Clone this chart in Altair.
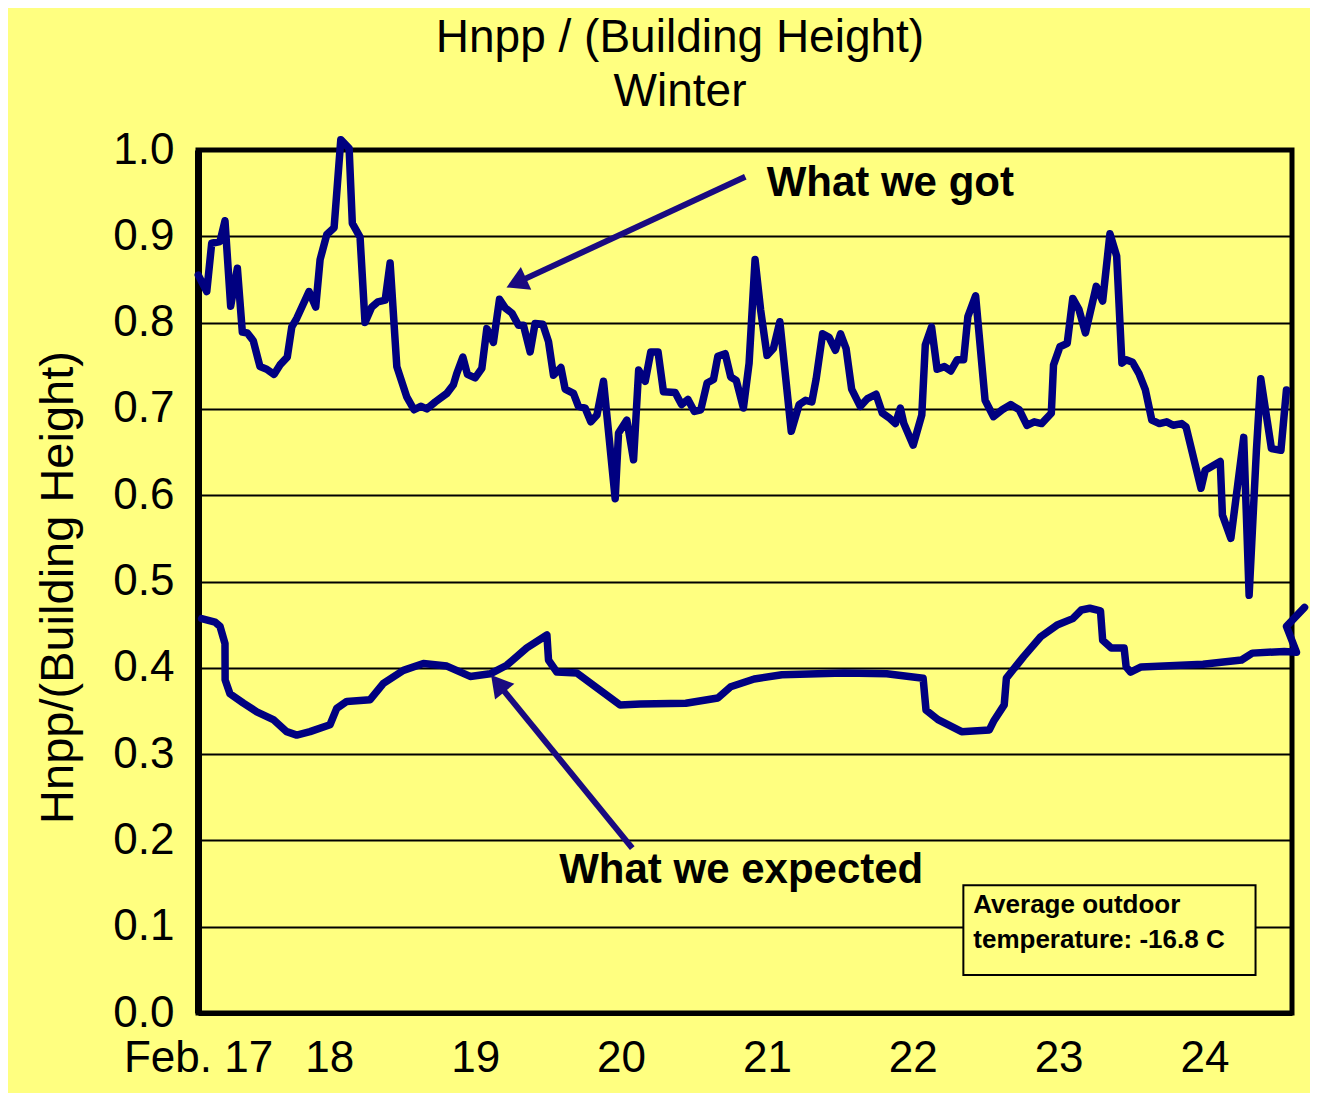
import altair as alt
import pandas as pd

# ---------------- data ----------------
got_day = [17.102, 17.160, 17.194, 17.251, 17.285, 17.324, 17.370, 17.404, 17.438, 17.479,
           17.525, 17.571, 17.621, 17.662, 17.712, 17.743, 17.777, 17.861, 17.907, 17.937,
           17.983, 18.033, 18.079, 18.136, 18.158, 18.211, 18.245, 18.291, 18.333, 18.383,
           18.417, 18.463, 18.531, 18.581, 18.627, 18.669, 18.726, 18.806, 18.851, 18.874,
           18.916, 18.947, 19.000, 19.046, 19.080, 19.125, 19.167, 19.206, 19.252, 19.297,
           19.331, 19.377, 19.411, 19.464, 19.503, 19.537, 19.588, 19.617, 19.674, 19.708,
           19.754, 19.793, 19.835, 19.880, 19.960, 19.983, 20.040, 20.086, 20.121, 20.166,
           20.204, 20.254, 20.291, 20.371, 20.415, 20.459, 20.503, 20.547, 20.590, 20.634,
           20.664, 20.714, 20.752, 20.790, 20.839, 20.878, 20.919, 20.957, 21.001, 21.045,
           21.089, 21.167, 21.221, 21.265, 21.308, 21.338, 21.382, 21.426, 21.470, 21.505,
           21.543, 21.581, 21.640, 21.690, 21.748, 21.792, 21.836, 21.881, 21.915, 21.939,
           22.003, 22.062, 22.086, 22.129, 22.167, 22.217, 22.261, 22.305, 22.349, 22.378,
           22.431, 22.496, 22.554, 22.613, 22.671, 22.730, 22.783, 22.833, 22.883, 22.950,
           22.965, 23.009, 23.059, 23.097, 23.140, 23.184, 23.258, 23.302, 23.352, 23.398,
           23.434, 23.463, 23.507, 23.551, 23.595, 23.639, 23.691, 23.741, 23.785, 23.844,
           23.874, 23.976, 24.005, 24.108, 24.123, 24.181, 24.269, 24.306, 24.356, 24.386,
           24.459, 24.524, 24.562]
got_val = [0.855, 0.836, 0.892, 0.894, 0.918, 0.819, 0.863, 0.789, 0.788, 0.779,
           0.749, 0.746, 0.740, 0.751, 0.760, 0.795, 0.805, 0.836, 0.818, 0.873,
           0.902, 0.910, 1.012, 1.002, 0.915, 0.899, 0.800, 0.818, 0.824, 0.826,
           0.869, 0.749, 0.714, 0.699, 0.703, 0.700, 0.708, 0.718, 0.728, 0.741,
           0.760, 0.740, 0.736, 0.747, 0.793, 0.777, 0.827, 0.817, 0.811, 0.797,
           0.797, 0.766, 0.799, 0.798, 0.778, 0.739, 0.748, 0.723, 0.718, 0.703,
           0.701, 0.685, 0.693, 0.732, 0.596, 0.672, 0.687, 0.641, 0.745, 0.732,
           0.766, 0.766, 0.720, 0.719, 0.705, 0.711, 0.697, 0.699, 0.730, 0.734,
           0.761, 0.764, 0.737, 0.733, 0.701, 0.753, 0.873, 0.815, 0.762, 0.770,
           0.801, 0.674, 0.705, 0.710, 0.708, 0.735, 0.787, 0.783, 0.768, 0.787,
           0.770, 0.723, 0.703, 0.712, 0.717, 0.695, 0.690, 0.683, 0.701, 0.683,
           0.658, 0.693, 0.774, 0.795, 0.746, 0.749, 0.744, 0.757, 0.757, 0.807,
           0.831, 0.710, 0.691, 0.699, 0.705, 0.699, 0.681, 0.685, 0.683, 0.695,
           0.751, 0.772, 0.776, 0.828, 0.815, 0.788, 0.842, 0.825, 0.903, 0.877,
           0.753, 0.757, 0.754, 0.741, 0.722, 0.687, 0.683, 0.685, 0.681, 0.683,
           0.679, 0.608, 0.629, 0.639, 0.577, 0.550, 0.667, 0.484, 0.652, 0.735,
           0.654, 0.652, 0.722]

exp_day = [17.125, 17.217, 17.251, 17.285, 17.286, 17.319, 17.411, 17.503, 17.616, 17.708,
           17.777, 17.868, 18.005, 18.051, 18.120, 18.280, 18.371, 18.508, 18.645, 18.806,
           18.966, 19.103, 19.217, 19.354, 19.492, 19.503, 19.560, 19.697, 19.857, 19.994,
           20.132, 20.444, 20.664, 20.752, 20.913, 21.103, 21.529, 21.822, 22.071, 22.091,
           22.173, 22.335, 22.525, 22.554, 22.627, 22.642, 22.760, 22.877, 22.994, 23.097,
           23.156, 23.214, 23.287, 23.302, 23.361, 23.449, 23.463, 23.493, 23.566, 23.990,
           24.254, 24.328, 24.547, 24.631, 24.562, 24.686]
exp_val = [0.457, 0.453, 0.448, 0.428, 0.386, 0.370, 0.359, 0.349, 0.340, 0.326,
           0.322, 0.326, 0.334, 0.353, 0.361, 0.363, 0.382, 0.397, 0.405, 0.402,
           0.390, 0.393, 0.403, 0.423, 0.438, 0.409, 0.395, 0.394, 0.374, 0.357,
           0.358, 0.359, 0.365, 0.378, 0.387, 0.392, 0.394, 0.393, 0.388, 0.351,
           0.340, 0.326, 0.328, 0.338, 0.357, 0.388, 0.413, 0.436, 0.450, 0.457,
           0.467, 0.469, 0.466, 0.432, 0.423, 0.423, 0.401, 0.395, 0.401, 0.404,
           0.409, 0.417, 0.419, 0.418, 0.448, 0.470]

y_ticks = [0.0, 0.1, 0.2, 0.3, 0.4, 0.5, 0.6, 0.7, 0.8, 0.9, 1.0]
x_tick_values = [17.1, 18, 19, 20, 21, 22, 23, 24]
x_tick_labels = ["Feb. 17", "18", "19", "20", "21", "22", "23", "24"]

title_lines = ["Hnpp / (Building Height)", "Winter"]
y_title = "Hnpp/(Building Height)"
label_got = "What we got"
label_exp = "What we expected"
box_lines = ["Average outdoor", "temperature: -16.8 C"]

# annotation anchors (data coordinates)
ann_text_day = [21.846, 20.824]
ann_text_val = [0.962, 0.166]
arrow_from_day = [20.852, 20.077]
arrow_from_val = [0.969, 0.191]
arrow_to_day = [19.282, 19.156]
arrow_to_val = [0.846, 0.382]
arrow_angle = [245.2, 320.8]
box_day = [22.347, 24.350]
box_val = [0.044, 0.148]
box_text_day = 22.415
box_text_val = [0.125, 0.0846]

# ---------------- build ----------------
FONT = "Liberation Sans"
LINE = "#000080"
ARROW = "#1A0A80"
BG = "#FFFF80"

lines_df = pd.concat([
    pd.DataFrame({"day": got_day, "value": got_val, "series": "got",
                  "ord": list(range(len(got_day)))}),
    pd.DataFrame({"day": exp_day, "value": exp_val, "series": "expected",
                  "ord": list(range(len(exp_day)))}),
], ignore_index=True)

xs = alt.Scale(domain=[17.1, 24.6], nice=False, zero=False)
ys = alt.Scale(domain=[0, 1], nice=False, zero=False)

label_expr = ""
for v, l in zip(x_tick_values, x_tick_labels):
    label_expr += f"abs(datum.value - {v}) < 0.01 ? '{l}' : "
label_expr += "''"

x_axis = alt.Axis(values=x_tick_values, labelExpr=label_expr, title=None,
                  labelFont=FONT, labelFontSize=44, labelColor="black",
                  labelPadding=23, ticks=False, grid=False, labelFlush=False,
                  labelOverlap=False, domain=True, domainColor="black",
                  domainWidth=5)
y_axis = alt.Axis(values=y_ticks, format=".1f", title=y_title,
                  labelFont=FONT, labelFontSize=44, labelColor="black",
                  labelPadding=24, ticks=False, grid=True, gridColor="black",
                  gridWidth=2, gridOpacity=1, domain=True, domainColor="black",
                  domainWidth=7, labelFlush=False,
                  titleFont=FONT, titleFontSize=47, titleFontWeight="normal",
                  titleColor="black", titleAngle=270, titleX=-140, titleY=437,
                  titleAlign="center", titleBaseline="middle")


def X(field="day"):
    return alt.X(f"{field}:Q", scale=xs, axis=x_axis, title=None)


def Y(field="value"):
    return alt.Y(f"{field}:Q", scale=ys, axis=y_axis, title=y_title)


lines = alt.Chart(lines_df).mark_line(
    color=LINE, strokeWidth=7.5, strokeJoin="round", strokeCap="round"
).encode(
    x=X(), y=Y(),
    detail="series:N",
    order="ord:Q",
)

arrows_df = pd.DataFrame({"day": arrow_from_day, "value": arrow_from_val,
                          "day2": arrow_to_day, "value2": arrow_to_val,
                          "ang": arrow_angle})
arrow_lines = alt.Chart(arrows_df).mark_rule(color=ARROW, strokeWidth=6).encode(
    x=X(), y=Y(), x2="day2:Q", y2="value2:Q",
)
heads_df = pd.DataFrame({"day": arrow_to_day, "value": arrow_to_val,
                         "ang": arrow_angle})
arrow_heads = alt.Chart(heads_df).mark_point(
    shape="triangle-up", filled=True, size=620, color=ARROW, opacity=1
).encode(
    x=X(), y=Y(),
    angle=alt.Angle("ang:Q", scale=None),
)

ann_df = pd.DataFrame({"day": ann_text_day, "value": ann_text_val,
                       "t": [label_got, label_exp]})
ann_text = alt.Chart(ann_df).mark_text(
    font=FONT, fontSize=42, fontWeight="bold", color="black",
    align="center", baseline="middle"
).encode(x=X(), y=Y(), text="t:N")

box_df = pd.DataFrame({"day": [box_day[0]], "day2": [box_day[1]],
                       "value": [box_val[0]], "value2": [box_val[1]]})
box = alt.Chart(box_df).mark_rect(fill=BG, stroke="black", strokeWidth=2).encode(
    x=X(), x2="day2:Q", y=Y(), y2="value2:Q",
)
box_text_df = pd.DataFrame({"day": [box_text_day] * 2, "value": box_text_val,
                            "t": box_lines})
box_text = alt.Chart(box_text_df).mark_text(
    font=FONT, fontSize=26, fontWeight="bold", color="black",
    align="left", baseline="middle"
).encode(x=X(), y=Y(), text="t:N")

chart = alt.layer(lines, box, box_text, arrow_lines, arrow_heads, ann_text).properties(
    width=1094, height=863,
    title=alt.Title(title_lines, font=FONT, fontSize=46, fontWeight="normal",
                    color="black", anchor="middle", dx=-65, offset=12,
                    lineHeight=54),
    background=BG,
    autosize=alt.AutoSizeParams(type="none"),
    padding={"left": 190, "top": 142, "right": 18, "bottom": 80},
).configure_view(stroke="black", strokeWidth=5)

chart.save("out.html", embed_options={"renderer": "svg", "actions": False})
